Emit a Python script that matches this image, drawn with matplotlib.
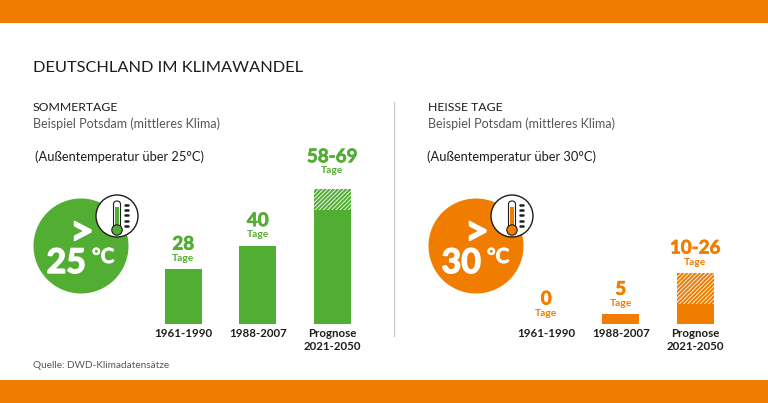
import matplotlib
matplotlib.use('Agg')
import matplotlib.pyplot as plt
import matplotlib.patheffects as pe
from matplotlib.patches import Circle, FancyBboxPatch, Rectangle

plt.rcParams['font.family'] = ['Lato', 'DejaVu Sans']
plt.rcParams['hatch.linewidth'] = 0.6

GREEN = '#52AE32'
ORANGE = '#F07D00'
DARK = '#1D1D1B'
GREY = '#575756'

W, H = 768, 403

periods = ['1961-1990', '1988-2007', 'Prognose\n2021-2050']

summer_low = [28, 40, 58]
summer_high = [28, 40, 69]
summer_labels = ['28', '40', '58-69']

hot_low = [0, 5, 10]
hot_high = [0, 5, 26]
hot_labels = ['0', '5', '10-26']

PX_PER_DAY = 1.96
BASELINE = 324


def heavy(col, w=0.6):
    return [pe.withStroke(linewidth=w, foreground=col)]


def bar_panel(fig, left, low, high, labels, col, extra):
    # axes placed in pixels, 74.5 px between the bars
    width_px = 3 * 74.5
    height_px = 80 * PX_PER_DAY
    ax = fig.add_axes([left / W, (H - BASELINE) / H, width_px / W, height_px / H])
    ax.patch.set_alpha(0)
    x = list(range(len(low)))
    ax.bar(x, low, width=0.5, color=col, linewidth=0)
    rest = [h - l for h, l in zip(high, low)]
    ax.bar(x, rest, width=0.5, bottom=low, facecolor=col, edgecolor='white', hatch='////////', linewidth=0)
    ax.set_xlim(-0.5, 2.5)
    ax.set_ylim(0, 80)
    ax.set_yticks([])
    ax.set_xticks(x)
    ax.set_xticklabels(periods, fontsize=8.3, fontweight='bold', color=DARK, linespacing=1.25)
    ax.tick_params(axis='x', length=0, pad=3)
    for s in ax.spines.values():
        s.set_visible(False)
    for i in x:
        ax.annotate('Tage', (i, high[i]), xytext=(0, (11 + extra[i]) * 0.72), textcoords='offset points',
                    ha='center', va='center', fontsize=7.4, fontweight='bold', color=col)
        ax.annotate(labels[i], (i, high[i]), xytext=(0, (25 + extra[i]) * 0.72), textcoords='offset points',
                    ha='center', va='center', fontsize=13.5, fontweight='bold', color=col,
                    path_effects=heavy(col, 0.5))
    return ax


def badge(bg, cx, col, num):
    cy = 246
    bg.add_patch(Circle((cx, cy), 47.5, color=col, lw=0))
    bg.text(cx + 1, cy - 13, '>', color='white', fontsize=30, fontweight='bold', ha='center', va='center',
            path_effects=heavy('white', 1.0))
    bg.text(cx + 5, cy + 17, num, color='white', fontsize=24.5, fontweight='bold', ha='right', va='center',
            path_effects=heavy('white', 1.0))
    bg.text(cx + 11, cy + 11, '°C', color='white', fontsize=15, fontweight='bold', ha='left', va='center',
            path_effects=heavy('white', 0.5))
    # thermometer
    tx, ty = cx + 36, 216
    bg.add_patch(Circle((tx, ty), 21, facecolor='white', edgecolor=DARK, lw=1.0))
    bg.add_patch(FancyBboxPatch((tx - 3.5, ty - 15), 7, 28, boxstyle='round,pad=0,rounding_size=3.5',
                                facecolor='white', edgecolor=DARK, lw=0.8))
    bg.add_patch(Rectangle((tx - 2.4, ty - 9), 4.8, 22, color=col, lw=0))
    bg.add_patch(Circle((tx, ty + 14), 5.2, facecolor=col, edgecolor=DARK, lw=0.8))
    for k in range(5):
        bg.plot([tx + 7.5, tx + 11], [ty - 11 + k * 5.2] * 2, color=DARK, lw=1.8, solid_capstyle='round')


fig = plt.figure(figsize=(W / 100, H / 100), dpi=100, facecolor='white')
bg = fig.add_axes([0, 0, 1, 1])
bg.set_xlim(0, W)
bg.set_ylim(H, 0)
bg.axis('off')

bg.add_patch(Rectangle((0, 0), W, 23, color=ORANGE, lw=0))
bg.add_patch(Rectangle((0, 380), W, 23, color=ORANGE, lw=0))
bg.plot([394, 394], [102, 336], color='#C6C6C6', lw=0.8)

bg.text(33, 68.5, 'DEUTSCHLAND IM KLIMAWANDEL', fontsize=11.8, color=DARK, va='center')

bg.text(33, 107.5, 'SOMMERTAGE', fontsize=8.8, color=DARK, va='center')
bg.text(33, 123.5, 'Beispiel Potsdam (mittleres Klima)', fontsize=9.0, color=GREY, va='center')
bg.text(35, 157, '(Außentemperatur über 25°C)', fontsize=9.3, color=DARK, va='center')

bg.text(428, 107.5, 'HEISSE TAGE', fontsize=8.8, color=DARK, va='center')
bg.text(428, 123.5, 'Beispiel Potsdam (mittleres Klima)', fontsize=9.0, color=GREY, va='center')
bg.text(427, 157, '(Außentemperatur über 30°C)', fontsize=9.3, color=DARK, va='center')

bg.text(33, 365.5, 'Quelle: DWD-Klimadatensätze', fontsize=7.2, color=GREY, va='center')

badge(bg, 81, GREEN, '25')
badge(bg, 476, ORANGE, '30')

bar_panel(fig, 146, summer_low, summer_high, summer_labels, GREEN, [0, 0, 7])
bar_panel(fig, 509, hot_low, hot_high, hot_labels, ORANGE, [0, 0, 0])

fig.savefig('out.png', dpi=100)
